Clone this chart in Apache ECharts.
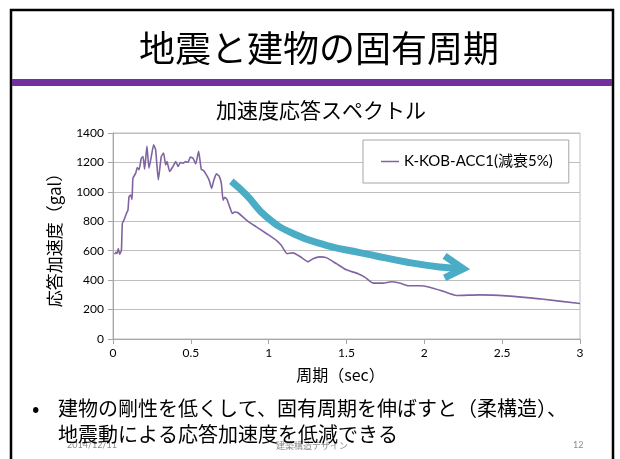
<!DOCTYPE html>
<html><head><meta charset="utf-8">
<script src="https://cdn.jsdelivr.net/npm/echarts@6/dist/echarts.min.js"></script>
<style>html,body{margin:0;padding:0;background:#fff}#c{width:620px;height:459px}</style>
</head><body><div id="c"></div>
<script>
const slideTitle = '地震と建物の固有周期';
const chartTitle = '加速度応答スペクトル';
const seriesName = 'K-KOB-ACC1(減衰5%)';
const xName = '周期（sec）';
const yName = '応答加速度（gal）';
const bulletLine1 = '建物の剛性を低くして、固有周期を伸ばすと（柔構造）、';
const bulletLine2 = '地震動による応答加速度を低減できる';
const footerDate = '2014/12/11';
const footerTitle = '建築構造デザイン';
const footerPage = '12';

const period = [0.01,0.018,0.026,0.034,0.043,0.054,0.06,0.075,0.086,0.096,0.103,0.113,0.122,0.128,0.146,0.156,0.167,0.182,0.193,0.203,0.218,0.231,0.246,0.261,0.274,0.291,0.31,0.325,0.338,0.347,0.364,0.385,0.403,0.418,0.433,0.45,0.467,0.482,0.497,0.514,0.531,0.55,0.567,0.582,0.6,0.617,0.634,0.647,0.664,0.681,0.696,0.707,0.717,0.732,0.749,0.767,0.782,0.803,0.857,0.921,0.985,1.049,1.081,1.118,1.156,1.199,1.253,1.285,1.328,1.37,1.435,1.499,1.574,1.617,1.67,1.734,1.788,1.841,1.895,1.97,2.034,2.12,2.206,2.355,2.527,2.74,3.0];
const accel = [576,590,580,615,576,603,785,820,853,876,967,979,949,1092,1127,1165,1150,1229,1240,1154,1311,1161,1240,1320,1286,1081,1240,1263,1183,1206,1138,1172,1206,1172,1200,1195,1206,1200,1236,1229,1190,1275,1154,1145,1115,1081,1024,1077,1122,1108,1058,944,963,949,899,853,863,858,808,762,717,671,637,580,585,562,524,546,558,553,512,470,444,421,380,380,389,380,362,362,352,325,296,300,293,273,241];

const arrowX = [0.76,0.857,0.985,1.156,1.37,1.585,1.67,1.884,2.098,2.25];
const arrowY = [1072,979,831,717,637,587,569,523,489,478];
const headX = [2.13,2.25,2.13];
const headY = [565,478,415];

const xTicks = {min:0, max:3, interval:0.5};
const yTicks = {min:0, max:1400, interval:200};

const zip = (a,b)=>a.map((v,i)=>[v,b[i]]);
const jp = '"Noto Sans CJK JP", sans-serif';
const num = 'Lato, "Noto Sans CJK JP", sans-serif';

const chart = echarts.init(document.getElementById('c'), null, {renderer:'canvas'});
chart.setOption({
  animation:false,
  backgroundColor:'#fff',
  title:[
    {text:slideTitle, left:314, textAlign:'center', top:25, textStyle:{fontFamily:jp, fontSize:36, fontWeight:'normal', color:'#000'}},
    {text:chartTitle, left:316, textAlign:'center', top:95, textStyle:{fontFamily:jp, fontSize:21, fontWeight:'normal', color:'#000'}}
  ],
  grid:{left:113, right:40, top:133, bottom:120, show:true, borderColor:'#bfbfbf', borderWidth:1, backgroundColor:'transparent'},
  legend:{
    data:[seriesName], left:363, top:140, orient:'vertical',
    backgroundColor:'#fff', borderColor:'#a6a6a6', borderWidth:1, borderRadius:0,
    padding:[14,16,14,18], icon:'rect', itemWidth:18, itemHeight:1.5,
    textStyle:{fontFamily:num, fontSize:15, color:'#000'}
  },
  xAxis:{type:'value', min:xTicks.min, max:xTicks.max, interval:xTicks.interval,
    name:xName, nameLocation:'middle', nameGap:28,
    nameTextStyle:{fontFamily:jp, fontSize:16, color:'#000', padding:[0,12,0,0]},
    axisLine:{show:true, lineStyle:{color:'#a6a6a6'}},
    axisTick:{show:true, inside:false, length:5, lineStyle:{color:'#a6a6a6'}},
    axisLabel:{fontFamily:num, fontSize:12, color:'#000', margin:8},
    splitLine:{show:false}},
  yAxis:{type:'value', min:yTicks.min, max:yTicks.max, interval:yTicks.interval,
    name:yName, nameLocation:'middle', nameGap:50, nameRotate:90,
    nameTextStyle:{fontFamily:jp, fontSize:17, color:'#000'},
    axisLine:{show:true, lineStyle:{color:'#a6a6a6'}},
    axisTick:{show:true, inside:false, length:5, lineStyle:{color:'#a6a6a6'}},
    axisLabel:{fontFamily:num, fontSize:12, color:'#000', margin:9, formatter:v=>String(v)},
    splitLine:{show:true, lineStyle:{color:'#bfbfbf', width:1}}},
  series:[
    {name:seriesName, type:'line', data:zip(period,accel), symbol:'none', smooth:0.15,
      itemStyle:{color:'#8064A2'}, lineStyle:{color:'#8064A2', width:1.6}, z:3},
    {name:'arrow', type:'line', data:zip(arrowX,arrowY), symbol:'none', smooth:0.5,
      lineStyle:{color:'#4BACC6', width:7, cap:'butt'}, z:4, silent:true},
    {name:'arrowHead', type:'line', data:zip(headX,headY), symbol:'none',
      lineStyle:{color:'#4BACC6', width:7, cap:'butt', join:'miter'}, z:4, silent:true}
  ],
  graphic:[
    {type:'rect', shape:{x:11, y:10, width:602, height:460}, style:{fill:'none', stroke:'#000', lineWidth:2.5}, z:10},
    {type:'rect', shape:{x:12, y:79, width:600, height:7}, style:{fill:'#7030A0'}, z:10},
    {type:'text', left:32, top:397, style:{text:'•', font:'22px '+jp, fill:'#000'}},
    {type:'text', left:58, top:398, style:{text:bulletLine1, font:'20px '+jp, fill:'#000'}},
    {type:'text', left:58, top:424, style:{text:bulletLine2, font:'20px '+jp, fill:'#000'}, z:5},
    {type:'text', left:67, top:441, style:{text:footerDate, font:'9px '+num, fill:'#8c8c8c'}, z:4},
    {type:'text', left:276, top:441, style:{text:footerTitle, font:'9px '+jp, fill:'#8c8c8c'}, z:4},
    {type:'text', left:573, top:441, style:{text:footerPage, font:'9px '+num, fill:'#8c8c8c'}, z:4}
  ]
});
</script></body></html>
